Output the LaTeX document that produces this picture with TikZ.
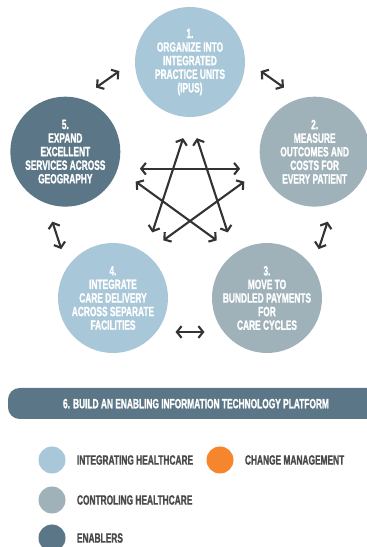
\documentclass[tikz,border=0pt]{standalone}
\usepackage{fontspec}
\newfontfamily\condfont{Liberation Sans Bold}[FakeStretch=0.62, FakeBold=1.2]
\usetikzlibrary{positioning,arrows.meta}

\definecolor{integblue}{HTML}{A8C7D8}
\definecolor{ctrlgrey}{HTML}{9FB2BA}
\definecolor{enabler}{HTML}{5B7686}
\definecolor{changeorange}{HTML}{F5862B}
\definecolor{arrowgrey}{HTML}{333333}
\definecolor{legendtext}{HTML}{4A4A4A}

\begin{document}
\begin{tikzpicture}[
        bubble/.style={circle, minimum size=3.3cm, inner sep=0pt},
        bubbletext/.style={text=white, align=center, inner sep=0pt, font=\condfont\fontsize{11.5}{11.6}\selectfont},
        twoway/.style={draw=arrowgrey, line width=1.8pt, line cap=round, {Straight Barb[length=4pt,width=10pt]}-{Straight Barb[length=4pt,width=10pt]}},
        legdot/.style={circle, minimum size=0.81cm, inner sep=0pt},
        legtext/.style={text=legendtext, inner sep=0pt, font=\condfont\fontsize{11.5}{11.6}\selectfont}
    ]
        \useasboundingbox (0,0) rectangle (11.01,16.41);

        % Draw the five circles
        \node[bubble, fill=integblue] (c1) at (5.70,14.55) {};
        \node[bubble, fill=ctrlgrey] (c2) at (9.44,11.86) {};
        \node[bubble, fill=ctrlgrey] (c3) at (8.01,7.47) {};
        \node[bubble, fill=integblue] (c4) at (3.39,7.47) {};
        \node[bubble, fill=enabler] (c5) at (1.96,11.86) {};

        % Texts
        \node[bubbletext] (t1) at (c1) {1.\\ORGANIZE INTO\\INTEGRATED\\PRACTICE UNITS\\(IPUS)};
        \node[bubbletext] (t2) at (c2) {2.\\MEASURE\\OUTCOMES AND\\COSTS FOR\\EVERY PATIENT};
        \node[bubbletext] (t3) at (c3) {3.\\MOVE TO\\BUNDLED PAYMENTS\\FOR\\CARE CYCLES};
        \node[bubbletext] (t4) at (c4) {4.\\INTEGRATE\\CARE DELIVERY\\ACROSS SEPARATE\\FACILITIES};
        \node[bubbletext] (t5) at (c5) {5.\\EXPAND\\EXCELLENT\\SERVICES ACROSS\\GEOGRAPHY};

        % Arrows between neighbours
        \draw[twoway, shorten <=0.57cm, shorten >=0.57cm] (c1.2) -- (c2.106);
        \draw[twoway, shorten <=0.57cm, shorten >=0.57cm] (c2.-70) -- (c3.34);
        \draw[twoway, shorten <=0.57cm, shorten >=0.57cm] (c3.-142) -- (c4.-38);
        \draw[twoway, shorten <=0.57cm, shorten >=0.57cm] (c4.146) -- (c5.250);
        \draw[twoway, shorten <=0.57cm, shorten >=0.57cm] (c5.74) -- (c1.178);

        % Star in the middle
        \draw[twoway, shorten <=0.66cm, shorten >=0.66cm] (c1.270) -- (c3.126);
        \draw[twoway, shorten <=0.66cm, shorten >=0.66cm] (c1.270) -- (c4.54);
        \draw[twoway, shorten <=0.66cm, shorten >=0.66cm] (c2.198) -- (c4.54);
        \draw[twoway, shorten <=0.66cm, shorten >=0.66cm] (c2.198) -- (c5.-18);
        \draw[twoway, shorten <=0.66cm, shorten >=0.66cm] (c3.126) -- (c5.-18);

        % Platform banner
        \fill[enabler, rounded corners=0.35cm] (11.5,3.84) -- (0.24,3.84) -- (0.24,4.77) -- (11.5,4.77) -- cycle;
        \node[bubbletext, font=\condfont\fontsize{11.5}{11.6}\selectfont] (banner) at (5.88,4.30) {6. BUILD AN ENABLING INFORMATION TECHNOLOGY PLATFORM};

        % Legend
        \node[legdot, fill=integblue] (lg1) at (1.56,2.61) {};
        \node[legtext, right=0.33cm of lg1] (lt1) {INTEGRATING HEALTHCARE};
        \node[legdot, fill=changeorange] (lg4) at (6.60,2.61) {};
        \node[legtext, right=0.33cm of lg4] (lt4) {CHANGE MANAGEMENT};
        \node[legdot, fill=ctrlgrey] (lg2) at (1.56,1.41) {};
        \node[legtext, right=0.33cm of lg2] (lt2) {CONTROLING HEALTHCARE};
        \node[legdot, fill=enabler] (lg3) at (1.56,0.27) {};
        \node[legtext, right=0.33cm of lg3] (lt3) {ENABLERS};
    \end{tikzpicture}
\end{document}
